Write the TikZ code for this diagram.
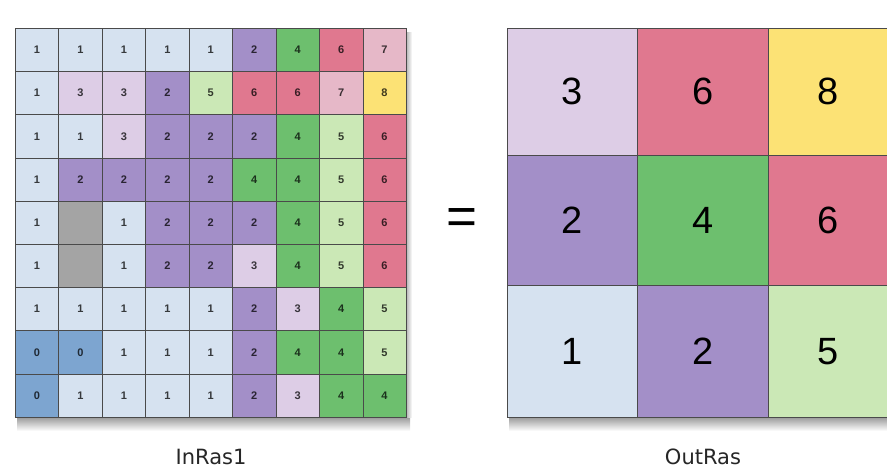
\documentclass[tikz,border=0pt]{standalone}
\usepackage{fontspec}
\setmainfont{DejaVu Sans}
\newfontfamily\digitfont{Liberation Sans}
\definecolor{v0}{HTML}{7DA5D0}
\definecolor{v1}{HTML}{D6E2F0}
\definecolor{v2}{HTML}{A38FC8}
\definecolor{v3}{HTML}{DDCDE6}
\definecolor{v4}{HTML}{6DBF6E}
\definecolor{v5}{HTML}{CBE8B6}
\definecolor{v6}{HTML}{E0788F}
\definecolor{v7}{HTML}{E6B8C8}
\definecolor{v8}{HTML}{FCE275}
\definecolor{vN}{HTML}{A4A4A4}
\definecolor{gridline}{HTML}{4A4A4A}
\expandafter\def\csname labv0\endcsname{0}
\expandafter\def\csname labv1\endcsname{1}
\expandafter\def\csname labv2\endcsname{2}
\expandafter\def\csname labv3\endcsname{3}
\expandafter\def\csname labv4\endcsname{4}
\expandafter\def\csname labv5\endcsname{5}
\expandafter\def\csname labv6\endcsname{6}
\expandafter\def\csname labv7\endcsname{7}
\expandafter\def\csname labv8\endcsname{8}
\expandafter\def\csname labvN\endcsname{}
\begin{document}
\begin{tikzpicture}[x=1pt,y=-1pt,
  incell/.style={draw=gridline, line width=0.6pt, minimum width=43.44pt, minimum height=43.2pt,
    inner sep=0pt, anchor=north west, font=\digitfont\bfseries\fontsize{11}{11}\selectfont},
  outcell/.style={draw=gridline, line width=0.7pt, inner sep=0pt, anchor=north west,
    font=\digitfont\fontsize{38}{38}\selectfont},
  caption/.style={font=\fontsize{21}{21}\selectfont, text=black!85}]
\useasboundingbox (0,0) rectangle (887,469);
% shadows
\shade[top color=black!40, bottom color=white] (17,417) rectangle (410,431);
\shade[left color=black!30, right color=white] (406,32) rectangle (412,417);
\shade[top color=black!40, bottom color=white] (509,417) rectangle (887,431);
% input raster
\foreach \rowvals [count=\r] in {
  {1,1,1,1,1,2,4,6,7},
  {1,3,3,2,5,6,6,7,8},
  {1,1,3,2,2,2,4,5,6},
  {1,2,2,2,2,4,4,5,6},
  {1,N,1,2,2,2,4,5,6},
  {1,N,1,2,2,3,4,5,6},
  {1,1,1,1,1,2,3,4,5},
  {0,0,1,1,1,2,4,4,5},
  {0,1,1,1,1,2,3,4,4}}{
  \foreach \v [count=\c] in \rowvals {
    \node[incell, fill=v\v, text=v\v!25!black] (in-\r-\c)
      at ({15+(\c-1)*43.44},{28+(\r-1)*43.2}) {\csname labv\v\endcsname};
  }
}
% equals sign
\node (eq) at (462,222) {\digitfont\fontsize{53}{53}\selectfont =};
% output raster
\node[outcell, fill=v3, minimum width=130pt, minimum height=127pt] (out-1-1) at (507,28) {3};
\node[outcell, fill=v6, minimum width=131pt, minimum height=127pt] (out-1-2) at (637,28) {6};
\node[outcell, fill=v8, minimum width=119pt, minimum height=127pt] (out-1-3) at (768,28) {8};
\node[outcell, fill=v2, minimum width=130pt, minimum height=130pt] (out-2-1) at (507,155) {2};
\node[outcell, fill=v4, minimum width=131pt, minimum height=130pt] (out-2-2) at (637,155) {4};
\node[outcell, fill=v6, minimum width=119pt, minimum height=130pt] (out-2-3) at (768,155) {6};
\node[outcell, fill=v1, minimum width=130pt, minimum height=132pt] (out-3-1) at (507,285) {1};
\node[outcell, fill=v2, minimum width=131pt, minimum height=132pt] (out-3-2) at (637,285) {2};
\node[outcell, fill=v5, minimum width=119pt, minimum height=132pt] (out-3-3) at (768,285) {5};
% captions
\node[caption] (inlabel) at (211,457) {InRas1};
\node[caption] (outlabel) at (703,457) {OutRas};
\end{tikzpicture}
\end{document}
